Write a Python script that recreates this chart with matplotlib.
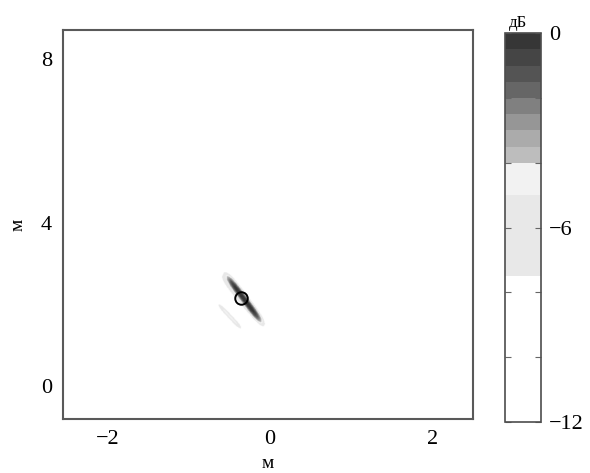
import numpy as np
import matplotlib
matplotlib.use("Agg")
import matplotlib.pyplot as plt
from matplotlib.colors import ListedColormap, BoundaryNorm

plt.rcParams['font.family'] = ['Liberation Serif', 'DejaVu Serif']
plt.rcParams['font.size'] = 16

# streaks seen in the image: start (x, y) and end (x, y) in metres,
# half-width (vertical metres), peak level in dB
streak_x0 = [-0.58, -0.68, -0.68]
streak_y0 = [2.80, 2.08, 2.95]
streak_x1 = [-0.07, -0.32, -0.03]
streak_y1 = [1.45, 1.32, 1.38]
streak_w = [0.09, 0.06, 0.17]
streak_db = [0.0, -4.6, -5.3]

# target marker
target_x = [-0.36]
target_y = [2.17]

# colour scale (dB) and grey level of each 0.5 dB step, from -12 upward
db_levels = np.arange(-12, 0.5, 0.5)
grey_steps = [1.0] * 9 + [0.91] * 5 + [0.95] * 2 + [0.74, 0.67, 0.59, 0.50] + [0.40, 0.33, 0.27, 0.21]
cbar_ticks = [0, -2, -4, -6, -8, -10, -12]
cbar_labels = ['0', '', '', '\u22126', '', '', '\u221212']

xlim = (-2.55, 2.5)
ylim = (-0.8, 8.7)

# build the field
xs = np.linspace(xlim[0], xlim[1], 700)
ys = np.linspace(ylim[0], ylim[1], 700)
X, Y = np.meshgrid(xs, ys)
sx = 2.0  # one x metre is about twice as wide as a y metre on screen
amp = np.full(X.shape, 1e-4)
for x0, y0, x1, y1, w, p in zip(streak_x0, streak_y0, streak_x1, streak_y1, streak_w, streak_db):
    px, py = (X - x0) * sx, Y - y0
    dx, dy = (x1 - x0) * sx, y1 - y0
    L = np.hypot(dx, dy)
    ux, uy = dx / L, dy / L
    t = px * ux + py * uy
    perp = -px * uy + py * ux
    s = t / L - 0.5
    along = np.exp(-(np.abs(s) / 0.5) ** 4)
    a = 10 ** (p / 20)
    amp = np.maximum(amp, a * np.exp(-0.5 * (perp / w) ** 2) * along)
db = np.clip(20 * np.log10(amp), -12, 0)

cmap = ListedColormap([(g, g, g) for g in grey_steps])
norm = BoundaryNorm(db_levels, cmap.N)

fig = plt.figure(figsize=(5.9, 4.73), dpi=100)
ax = fig.add_axes([0.107, 0.114, 0.695, 0.822])
im = ax.imshow(db, origin='lower', extent=(*xlim, *ylim), aspect='auto',
               cmap=cmap, norm=norm, interpolation='bilinear')
ax.plot(target_x, target_y, 'o', mfc='none', mec='black', ms=9, mew=1.4)
ax.set_xlim(*xlim)
ax.set_ylim(*ylim)
ax.set_xticks([-2, 0, 2])
ax.set_yticks([0, 4, 8])
ax.tick_params(length=0, pad=8)
for sp in ax.spines.values():
    sp.set_color('0.35')
    sp.set_linewidth(1.5)
ax.set_xlabel('м', fontsize=14, labelpad=4)
ax.set_ylabel('м', fontsize=14, labelpad=10)

cax = fig.add_axes([0.856, 0.108, 0.061, 0.822])
cb = fig.colorbar(im, cax=cax)
cb.ax.minorticks_off()
cb.set_ticks(cbar_ticks)
cb.ax.set_yticklabels(cbar_labels)
cb.ax.tick_params(length=4, direction='in', pad=6, color='0.4', left=True)
cb.outline.set_color('0.3')
cb.outline.set_linewidth(1.2)
fig.text(0.878, 0.952, 'дБ', fontsize=12, ha='center', va='center')

fig.savefig('out.png', dpi=100)
